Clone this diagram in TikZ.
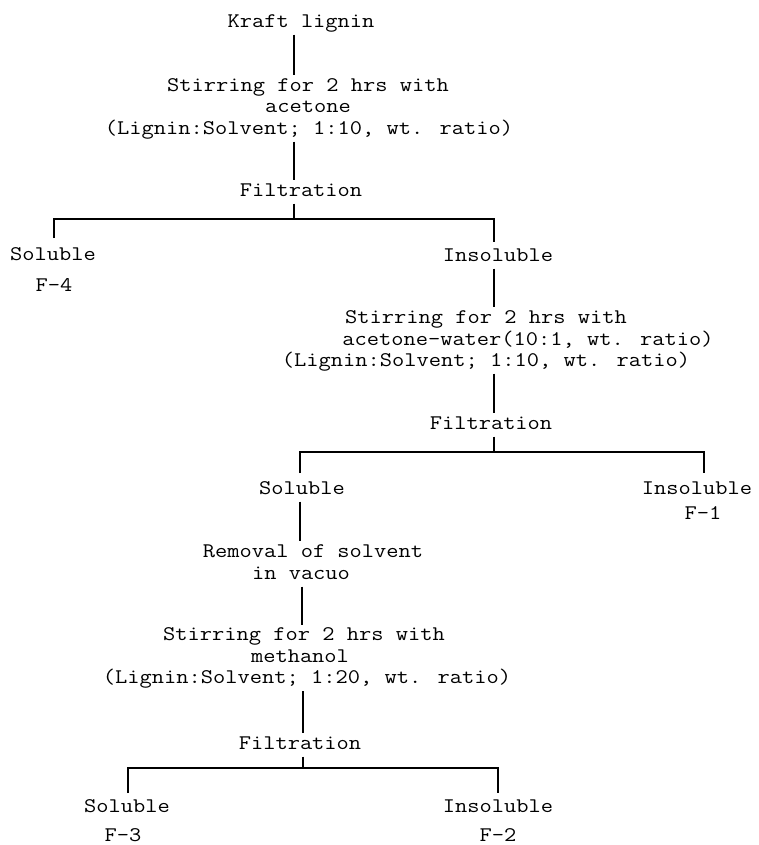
\documentclass[tikz,border=0pt]{standalone}
\usepackage{fontspec}
\usepackage{graphicx}
\newcommand\cwtext[1]{\scalebox{1.143}[1]{#1}}
\begin{document}
\begin{tikzpicture}[x=1pt,y=-1pt,
  txt/.style={font=\ttfamily\fontsize{20.8}{21.5}\selectfont,
              inner sep=0pt, outer sep=3pt,
              text height=12.9pt, text depth=4.2pt, anchor=center},
  conn/.style={line width=1.2pt, black}]
\useasboundingbox (0,0) rectangle (759,845);
% ---- top ----
\node[txt] (kraft) at (301,23) {\cwtext{Kraft lignin}};
\node[txt] (s1a) at (308,87) {\cwtext{Stirring for 2 hrs with}};
\node[txt] (s1b) at (308,108.5) {\cwtext{acetone}};
\node[txt] (s1c) at (309,130) {\cwtext{(Lignin:Solvent; 1:10, wt. ratio)}};
\node[txt] (f1) at (301,192) {\cwtext{Filtration}};
\node[txt] (sol1) at (53,256) {\cwtext{Soluble}};
\node[txt] (F4) at (54,287) {\cwtext{F-4}};
\node[txt] (ins1) at (498,257) {\cwtext{Insoluble}};
% ---- second stage ----
\node[txt] (s2a) at (486,319) {\cwtext{Stirring for 2 hrs with}};
\node[txt] (s2b) at (528,341) {\cwtext{acetone-water(10:1, wt. ratio)}};
\node[txt] (s2c) at (486,362) {\cwtext{(Lignin:Solvent; 1:10, wt. ratio)}};
\node[txt] (f2) at (491,425) {\cwtext{Filtration}};
\node[txt] (sol2) at (302,490) {\cwtext{Soluble}};
\node[txt] (ins2) at (697,490) {\cwtext{Insoluble}};
\node[txt] (F1) at (703,515) {\cwtext{F-1}};
% ---- third stage ----
\node[txt] (rem) at (313,553) {\cwtext{Removal of solvent}};
\node[txt] (vac) at (301,575) {\cwtext{in vacuo}};
\node[txt] (s3a) at (304,636.5) {\cwtext{Stirring for 2 hrs with}};
\node[txt] (s3b) at (300,658) {\cwtext{methanol}};
\node[txt] (s3c) at (307,679.5) {\cwtext{(Lignin:Solvent; 1:20, wt. ratio)}};
\node[txt] (f3) at (300,745) {\cwtext{Filtration}};
\node[txt] (sol3) at (127,808) {\cwtext{Soluble}};
\node[txt] (F3) at (123,837) {\cwtext{F-3}};
\node[txt] (ins3) at (498,808) {\cwtext{Insoluble}};
\node[txt] (F2) at (498,837) {\cwtext{F-2}};
% ---- junction coordinates ----
\coordinate (v1) at (294,0);
\coordinate (j1) at (294,219);
\coordinate (j1l) at (54,238);
\coordinate (j1r) at (494,242);
\coordinate (j2) at (494,452);
\coordinate (j2l) at (300,473);
\coordinate (j2r) at (704,473);
\coordinate (v3) at (302,0);
\coordinate (j3) at (303,768);
\coordinate (j3l) at (128,793);
\coordinate (j3r) at (498,793);
% ---- connectors ----
\draw[conn] (kraft.south -| v1) -- (s1a.north -| v1);
\draw[conn] (s1c.south -| v1) -- (f1.north -| v1);
\draw[conn] (f1.south -| j1) -- (j1);
\draw[conn] (j1l) |- (j1) -| (j1r);
\draw[conn] (ins1.south -| j1r) -- (s2a.north -| j1r);
\draw[conn] (s2c.south -| j2) -- (f2.north -| j2);
\draw[conn] (f2.south -| j2) -- (j2);
\draw[conn] (j2l) |- (j2) -| (j2r);
\draw[conn] (sol2.south -| j2l) -- (rem.north -| j2l);
\draw[conn] (vac.south -| v3) -- (s3a.north -| v3);
\draw[conn] (s3c.south -| j3) -- (f3.north -| j3);
\draw[conn] (f3.south -| j3) -- (j3);
\draw[conn] (j3l) |- (j3) -| (j3r);
\end{tikzpicture}
\end{document}
